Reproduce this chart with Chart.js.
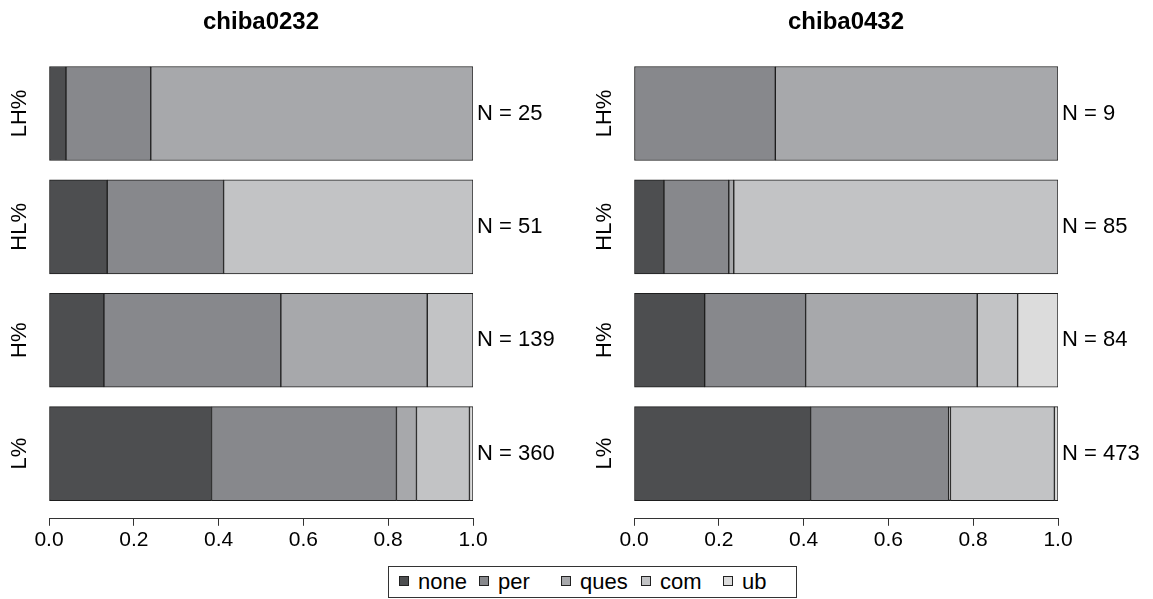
<!DOCTYPE html>
<html>
<head>
<meta charset="utf-8">
<script src="https://cdn.jsdelivr.net/npm/chart.js@4/dist/chart.umd.min.js"></script>
<style>
  html, body { margin: 0; padding: 0; background: #fff; }
  body { width: 1153px; height: 599px; position: relative; overflow: hidden; font-family: 'Liberation Sans', Arial, sans-serif; }
  .panel { position: absolute; top: 0; height: 560px; }
  #left { left: 0; width: 576px; }
  #right { left: 576px; width: 577px; }
  #legend { position: absolute; left: 388px; top: 566px; width: 409px; height: 32px; border: 1px solid #333; box-sizing: border-box; }
  #legend .item { position: absolute; top: 0; height: 30px; line-height: 30px; font-size: 22px; color: #000; white-space: nowrap; }
  #legend .box { display: inline-block; width: 8px; height: 8px; border: 1px solid #222; margin-right: 9px; vertical-align: 3px; }
</style>
</head>
<body>
<div class="panel" id="left"><canvas id="c1"></canvas></div>
<div class="panel" id="right"><canvas id="c2"></canvas></div>
<div id="legend"></div>
<script>
// rows from top to bottom
var categories = ['LH%', 'HL%', 'H%', 'L%'];
var seriesNames = ['none', 'per', 'ques', 'com', 'ub'];
var seriesColors = ['#4d4e50', '#87888c', '#a7a8ab', '#c2c3c5', '#dcdcdc'];
var xTicks = [0, 0.2, 0.4, 0.6, 0.8, 1.0];

// chiba0232 counts per row
var none0232 = [1, 7, 18, 138];
var per0232 = [5, 14, 58, 157];
var ques0232 = [19, 0, 48, 17];
var com0232 = [0, 30, 15, 45];
var ub0232 = [0, 0, 0, 3];
var n0232 = [25, 51, 139, 360];

// chiba0432 counts per row
var none0432 = [0, 6, 14, 197];
var per0432 = [3, 13, 20, 154];
var ques0432 = [6, 1, 34, 2];
var com0432 = [0, 65, 8, 116];
var ub0432 = [0, 0, 8, 4];
var n0432 = [9, 85, 84, 473];

Chart.defaults.font.family = "'Liberation Sans', Arial, sans-serif";
Chart.defaults.color = '#000';

var rowLabels = {
	id: 'rowLabels',
	afterDraw: function (chart, args, opts) {
		var ctx = chart.ctx;
		var yScale = chart.scales.y;
		var area = chart.chartArea;
		ctx.save();
		ctx.fillStyle = '#000';
		ctx.font = "22px 'Liberation Sans', Arial, sans-serif";
		categories.forEach(function (cat, i) {
			var y = yScale.getPixelForValue(categories.length - 1 - i);
			ctx.textAlign = 'left';
			ctx.textBaseline = 'middle';
			ctx.fillText('N = ' + opts.totals[i], area.right + 4, y);
			ctx.save();
			ctx.translate(area.left - 29, y);
			ctx.rotate(-Math.PI / 2);
			ctx.textAlign = 'center';
			ctx.fillText(cat, 0, 0);
			ctx.restore();
		});
		ctx.restore();
	}
};

function makeChart(id, title, counts, totals, padLeft, padRight) {
	var datasets = counts.map(function (vals, s) {
		return {
			label: seriesNames[s],
			data: vals.map(function (c, i) {
				return { x: c / totals[i], y: categories.length - 1 - i };
			}),
			backgroundColor: seriesColors[s],
			borderColor: '#1e1e1e',
			borderWidth: 1,
			borderSkipped: false,
			barThickness: 94
		};
	});
	return new Chart(document.getElementById(id), {
		type: 'bar',
		data: { datasets: datasets },
		options: {
			indexAxis: 'y',
			responsive: true,
			maintainAspectRatio: false,
			animation: false,
			layout: { padding: { left: padLeft, right: padRight, top: 0, bottom: 5 } },
			plugins: {
				legend: { display: false },
				tooltip: { enabled: false },
				title: {
					display: true,
					text: title,
					font: { size: 24, weight: 'bold' },
					color: '#000',
					padding: { top: 8, bottom: 20 }
				},
				rowLabels: { totals: totals }
			},
			scales: {
				x: {
					type: 'linear',
					stacked: true,
					min: 0,
					max: 1,
					afterBuildTicks: function (scale) {
						scale.ticks = xTicks.map(function (v) { return { value: v }; });
					},
					ticks: {
						font: { size: 21 },
						color: '#000',
						padding: 2,
						maxRotation: 0,
						callback: function (v) { return Number(v).toFixed(1); }
					},
					grid: { drawOnChartArea: false, tickLength: 7, color: '#333' },
					border: { color: '#333', width: 1 }
				},
				y: {
					type: 'linear',
					stacked: true,
					offset: false,
					min: -0.575,
					max: 3.5,
					display: false
				}
			}
		},
		plugins: [rowLabels]
	});
}

makeChart('c1', 'chiba0232', [none0232, per0232, ques0232, com0232, ub0232], n0232, 49, 103);
makeChart('c2', 'chiba0432', [none0432, per0432, ques0432, com0432, ub0432], n0432, 58, 95);

// legend
var legendLeft = [10, 90, 172, 252, 334];
var $legend = document.getElementById('legend');
seriesNames.forEach(function (name, s) {
	var item = document.createElement('div');
	item.className = 'item';
	item.style.left = legendLeft[s] + 'px';
	item.innerHTML = '<span class="box" style="background:' + seriesColors[s] + '"></span>' + name;
	$legend.appendChild(item);
});
</script>
</body>
</html>
